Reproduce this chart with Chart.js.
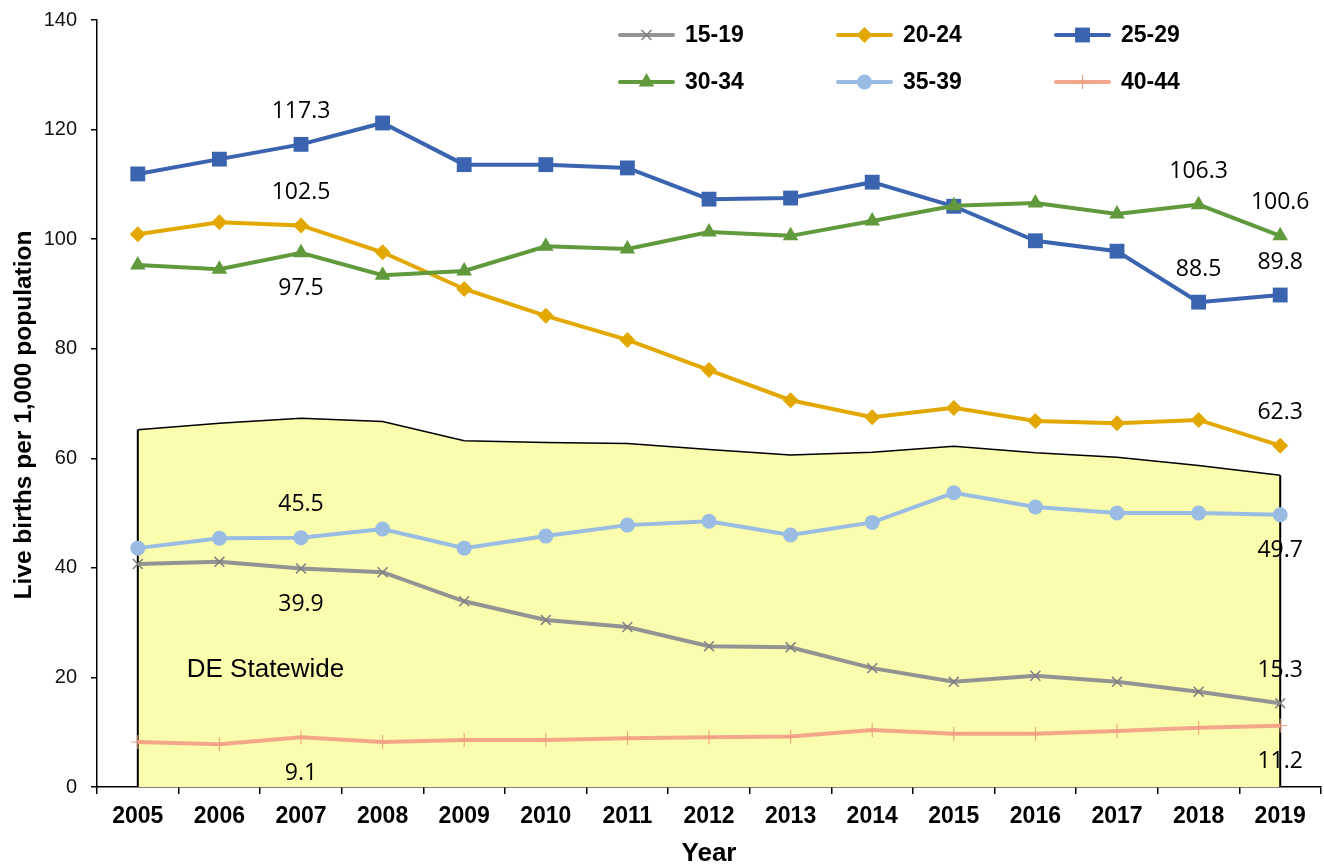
<!DOCTYPE html>
<html>
<head>
<meta charset="utf-8">
<script src="https://cdn.jsdelivr.net/npm/chart.js@4.4.1/dist/chart.umd.min.js"></script>
<style>
html,body{margin:0;padding:0;background:#fff;}
#wrap{width:1324px;height:864px;position:relative;}
</style>
</head>
<body>
<div id="wrap"><canvas id="c" width="1324" height="864"></canvas></div>
<script>
// ---------- DATA ----------
const years = ['2005','2006','2007','2008','2009','2010','2011','2012','2013','2014','2015','2016','2017','2018','2019'];
const age15_19 = [40.7, 41.1, 39.9, 39.2, 33.9, 30.5, 29.2, 25.7, 25.5, 21.7, 19.2, 20.3, 19.2, 17.4, 15.3];
const age20_24 = [100.9, 103.1, 102.5, 97.6, 90.9, 86.0, 81.6, 76.1, 70.6, 67.5, 69.2, 66.8, 66.4, 67.0, 62.3];
const age25_29 = [111.9, 114.6, 117.3, 121.2, 113.6, 113.6, 113.0, 107.3, 107.5, 110.4, 106.0, 99.7, 97.8, 88.5, 89.8];
const age30_34 = [95.3, 94.5, 97.5, 93.4, 94.2, 98.7, 98.2, 101.3, 100.6, 103.3, 106.1, 106.6, 104.6, 106.3, 100.6];
const age35_39 = [43.6, 45.4, 45.5, 47.1, 43.6, 45.8, 47.8, 48.5, 46.0, 48.3, 53.7, 51.1, 50.0, 50.0, 49.7];
const age40_44 = [8.2, 7.8, 9.1, 8.2, 8.6, 8.6, 8.9, 9.1, 9.2, 10.4, 9.7, 9.7, 10.2, 10.8, 11.2];
const statewide = [65.2, 66.4, 67.3, 66.7, 63.2, 62.9, 62.7, 61.6, 60.6, 61.1, 62.2, 61.0, 60.2, 58.7, 56.9];
const seriesNames = ['15-19','20-24','25-29','30-34','35-39','40-44'];
const statewideName = 'DE Statewide';
const yMin = 0, yMax = 140, yStep = 20;
const xTitle = 'Year';
const yTitle = 'Live births per 1,000 population';
// which values carry a data label: [series index, year index, 'above'|'below']
const labelSpecs = [
  [2, 2, 'above'], [1, 2, 'above'], [3, 2, 'below'], [4, 2, 'above'], [0, 2, 'below'], [5, 2, 'below'],
  [3, 13, 'above'], [2, 13, 'above'],
  [3, 14, 'above'], [2, 14, 'above'], [1, 14, 'above'], [4, 14, 'below'], [0, 14, 'above'], [5, 14, 'below']
];

// ---------- STYLES ----------
const seriesData = [age15_19, age20_24, age25_29, age30_34, age35_39, age40_44];
const styles = [
  {color:'#939393', pointColor:'#808080', style:'crossRot', radius:7, pbw:1.5},
  {color:'#E3A800', pointColor:'#E3A800', style:'rectRot', radius:8, pbw:0},
  {color:'#3B64B0', pointColor:'#3B64B0', style:'rect', radius:10.5, pbw:0},
  {color:'#619A3D', pointColor:'#619A3D', style:'triangle', radius:9, pbw:0},
  {color:'#9ABCE2', pointColor:'#9ABCE2', style:'circle', radius:7.5, pbw:0},
  {color:'#F3A88C', pointColor:'#F09A7C', style:'cross', radius:7, pbw:1}
];
const drawOrder = [6, 5, 4, 3, 2, 1];
const legendPos = [
  {x:620, y:35}, {x:838, y:35}, {x:1056, y:35},
  {x:620, y:82}, {x:838, y:82}, {x:1056, y:82}
];

function drawMarker(ctx, style, r, x, y, fill, stroke, bw) {
  ctx.save();
  ctx.beginPath();
  ctx.fillStyle = fill;
  ctx.strokeStyle = stroke;
  ctx.lineWidth = bw || 1;
  let s;
  switch (style) {
    case 'rect':
      s = Math.SQRT1_2 * r;
      ctx.rect(x - s, y - s, 2*s, 2*s); ctx.fill(); break;
    case 'rectRot':
      ctx.moveTo(x - r, y); ctx.lineTo(x, y + r); ctx.lineTo(x + r, y); ctx.lineTo(x, y - r); ctx.closePath(); ctx.fill(); break;
    case 'triangle': {
      let a = 0;
      ctx.moveTo(x + Math.sin(a)*r, y - Math.cos(a)*r);
      a += 2*Math.PI/3; ctx.lineTo(x + Math.sin(a)*r, y - Math.cos(a)*r);
      a += 2*Math.PI/3; ctx.lineTo(x + Math.sin(a)*r, y - Math.cos(a)*r);
      ctx.closePath(); ctx.fill(); break; }
    case 'circle':
      ctx.arc(x, y, r, 0, Math.PI*2); ctx.fill(); break;
    case 'crossRot':
      s = Math.SQRT1_2 * r;
      ctx.moveTo(x - s, y - s); ctx.lineTo(x + s, y + s);
      ctx.moveTo(x - s, y + s); ctx.lineTo(x + s, y - s); ctx.stroke(); break;
    case 'cross':
      ctx.moveTo(x, y - r); ctx.lineTo(x, y + r);
      ctx.moveTo(x - r, y); ctx.lineTo(x + r, y); ctx.stroke(); break;
  }
  ctx.restore();
}

const datasets = seriesData.map((d, i) => ({
  label: seriesNames[i],
  data: d,
  borderColor: styles[i].color,
  backgroundColor: styles[i].pointColor,
  pointBackgroundColor: styles[i].pointColor,
  pointBorderColor: styles[i].pointColor,
  pointBorderWidth: styles[i].pbw,
  borderWidth: 4,
  pointStyle: styles[i].style,
  pointRadius: styles[i].radius,
  pointHoverRadius: styles[i].radius,
  tension: 0,
  fill: false,
  clip: false,
  order: drawOrder[i]
}));
datasets.push({
  label: statewideName,
  data: statewide,
  borderColor: '#000000',
  borderWidth: 1.5,
  backgroundColor: '#F9FDAD',
  pointRadius: 0,
  tension: 0,
  fill: 'origin',
  order: 10,
  isArea: true
});

const extrasPlugin = {
  id: 'extras',
  afterDatasetDraw(chart, args) {
    const ds = chart.data.datasets[args.index];
    if (!ds.isArea) return;
    const meta = args.meta;
    const ctx = chart.ctx;
    const base = chart.scales.y.getPixelForValue(0);
    const first = meta.data[0], last = meta.data[meta.data.length - 1];
    ctx.save();
    ctx.strokeStyle = '#000';
    ctx.lineWidth = 2;
    ctx.beginPath();
    ctx.moveTo(first.x, first.y); ctx.lineTo(first.x, base);
    ctx.moveTo(last.x, last.y); ctx.lineTo(last.x, base);
    ctx.stroke();
    ctx.restore();
  },
  afterDatasetsDraw(chart) {
    const ctx = chart.ctx;
    // data labels
    ctx.save();
    ctx.fillStyle = '#000';
    ctx.font = '23px "Open Sans"';
    ctx.textAlign = 'center';
    ctx.textBaseline = 'middle';
    labelSpecs.forEach(([si, yi, pos]) => {
      const pt = chart.getDatasetMeta(si).data[yi];
      const v = seriesData[si][yi];
      ctx.fillText(v.toFixed(1), pt.x, pt.y + (pos === 'above' ? -33 : 36));
    });
    ctx.restore();
    // statewide label
    ctx.save();
    ctx.fillStyle = '#000';
    ctx.font = '26px "Liberation Sans"';
    ctx.textAlign = 'left';
    ctx.textBaseline = 'middle';
    ctx.fillText(statewideName, chart.scales.x.getPixelForValue(0.6), chart.scales.y.getPixelForValue(21.4));
    ctx.restore();
    // y-axis title
    ctx.save();
    ctx.fillStyle = '#000';
    ctx.font = 'bold 24.5px "Liberation Sans"';
    ctx.textAlign = 'center';
    ctx.textBaseline = 'middle';
    ctx.translate(24, 415);
    ctx.rotate(-Math.PI / 2);
    ctx.fillText(yTitle, 0, 0);
    ctx.restore();
    // legend
    seriesNames.forEach((name, i) => {
      const p = legendPos[i];
      const st = styles[i];
      ctx.save();
      ctx.strokeStyle = st.color;
      ctx.lineWidth = 4;
      ctx.lineCap = 'round';
      ctx.beginPath();
      ctx.moveTo(p.x, p.y); ctx.lineTo(p.x + 53, p.y);
      ctx.stroke();
      ctx.restore();
      drawMarker(ctx, st.style, st.radius, p.x + 26.5, p.y, st.pointColor, st.pointColor, st.pbw);
      ctx.save();
      ctx.fillStyle = '#000';
      ctx.font = 'bold 23px "Liberation Sans"';
      ctx.textAlign = 'left';
      ctx.textBaseline = 'middle';
      ctx.fillText(name, p.x + 65, p.y + 1);
      ctx.restore();
    });
  }
};

new Chart(document.getElementById('c'), {
  type: 'line',
  data: { labels: years, datasets: datasets },
  plugins: [extrasPlugin],
  options: {
    responsive: false,
    animation: false,
    devicePixelRatio: 1,
    layout: { autoPadding: false, padding: { top: 20, right: 3, left: 0, bottom: 0 } },
    plugins: { legend: { display: false }, tooltip: { enabled: false } },
    scales: {
      x: {
        type: 'category',
        offset: true,
        grid: { display: true, drawOnChartArea: false, drawTicks: true, tickLength: 7, offset: true, color: '#000', lineWidth: 1.5 },
        border: { display: true, color: '#000', width: 1.5 },
        ticks: { color: '#000', font: { family: 'Liberation Sans', size: 23, weight: 'bold' }, padding: 9, maxRotation: 0, autoSkip: false },
        title: { display: true, text: xTitle, color: '#000', font: { family: 'Liberation Sans', size: 26, weight: 'bold', lineHeight: 1 }, padding: { top: 0, bottom: -3 } },
        afterFit: s => { s.height = 77; s.paddingLeft = 0; s.paddingRight = 0; }
      },
      y: {
        min: yMin, max: yMax,
        grid: { display: true, drawOnChartArea: false, drawTicks: true, tickLength: 6, color: '#000', lineWidth: 1.5 },
        border: { display: true, color: '#000', width: 1.5 },
        ticks: { stepSize: yStep, color: '#111', font: { family: 'Liberation Sans', size: 20 }, padding: 14 },
        title: { display: false },
        afterFit: s => { s.width = 97; s.paddingTop = 0; s.paddingBottom = 0; }
      }
    }
  }
});
</script>
</body>
</html>
